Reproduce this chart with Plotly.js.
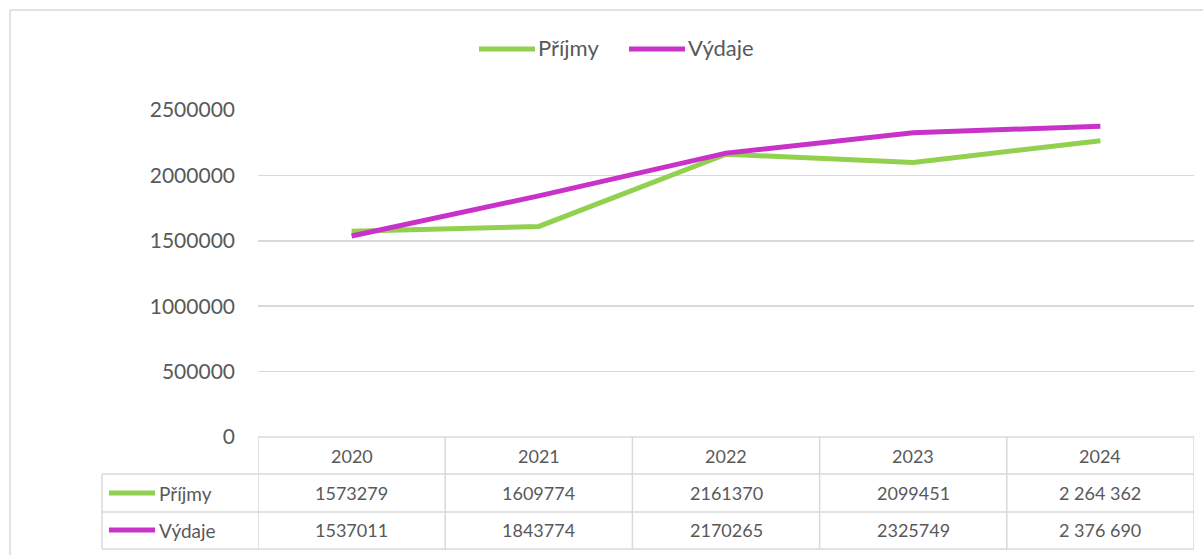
<!DOCTYPE html>
<html><head><meta charset="utf-8">
<script src="https://cdn.plot.ly/plotly-3.0.1.min.js"></script>
<style>html,body{margin:0;padding:0;background:#fff}#c{width:1203px;height:555px}</style>
</head><body><div id="c"></div>
<script>
const years = ['2020','2021','2022','2023','2024'];
const prijmy = [1573279, 1609774, 2161370, 2099451, 2264362];
const vydaje = [1537011, 1843774, 2170265, 2325749, 2376690];
const prijmyLabels = ['1573279','1609774','2161370','2099451','2 264 362'];
const vydajeLabels = ['1537011','1843774','2170265','2325749','2 376 690'];
const seriesNames = ['Příjmy','Výdaje'];
const colors = ['#92d050','#c832c8'];

const W=1203,H=555, L=258, R=1194, T=110, B=437;
const px = v => (v-L)/(R-L);
const py = v => (B-v)/(B-T);
const FONT = 'Lato, "Open Sans", sans-serif';
const TXT = '#595959', GRID = '#d9d9d9';

const traces = [
  {x: years, y: prijmy, name: seriesNames[0], type:'scatter', mode:'lines', line:{color:colors[0], width:5}},
  {x: years, y: vydaje, name: seriesNames[1], type:'scatter', mode:'lines', line:{color:colors[1], width:5}}
];

const shapes = [];
const ann = [];
const line = (x0,y0,x1,y1,color,w,xref) => shapes.push({type:'line', xref:xref||'paper', yref:'paper', x0, y0, x1, y1, line:{color, width:w}, layer:'below'});
// outer border
line(px(10), py(10), px(10), py(560), GRID, 1.5);
line(px(10), py(10), px(1210), py(10), GRID, 1.5);
// table horizontal lines
line(px(L), py(437), px(R), py(437), GRID, 1.5);
[474, 512, 549].forEach(y => line(px(102), py(y), px(R), py(y), GRID, 1.5));
// table vertical lines
line(px(102), py(474), px(102), py(549), GRID, 1.5);
for (let i=0;i<=years.length;i++) {
  shapes.push({type:'line', xref:'x', yref:'paper', x0:i-0.5, x1:i-0.5, y0:py(437), y1:py(549), line:{color:GRID, width:1.5}});
}
// table text
const TF = {family:FONT, size:18, color:TXT};
years.forEach((yr,i) => {
  ann.push({xref:'x', yref:'paper', x:i, y:py(456), text:yr, showarrow:false, font:TF, xanchor:'center', yanchor:'middle'});
  ann.push({xref:'x', yref:'paper', x:i, y:py(493), text:prijmyLabels[i], showarrow:false, font:TF, xanchor:'center', yanchor:'middle'});
  ann.push({xref:'x', yref:'paper', x:i, y:py(530), text:vydajeLabels[i], showarrow:false, font:TF, xanchor:'center', yanchor:'middle'});
});
// row legend keys
[[493,0],[530,1]].forEach(([y,k]) => {
  shapes.push({type:'line', xref:'paper', yref:'paper', x0:px(109), x1:px(155), y0:py(y), y1:py(y), line:{color:colors[k], width:5}});
  ann.push({xref:'paper', yref:'paper', x:px(157), y:py(y), text:seriesNames[k], showarrow:false, font:{family:FONT, size:19, color:TXT}, xanchor:'left', yanchor:'middle'});
});
// top legend
[[479,535,0],[629,685,1]].forEach(([x0,x1,k]) => {
  shapes.push({type:'line', xref:'paper', yref:'paper', x0:px(x0), x1:px(x1), y0:py(49), y1:py(49), line:{color:colors[k], width:5}});
  ann.push({xref:'paper', yref:'paper', x:px(x1+1), y:py(48), text:seriesNames[k], showarrow:false, font:{family:FONT, size:22, color:TXT}, xanchor:'left', yanchor:'middle'});
});

const layout = {
  width:W, height:H,
  margin:{l:L, r:W-R, t:T, b:H-B, pad:0},
  paper_bgcolor:'#fff', plot_bgcolor:'#fff',
  showlegend:false,
  font:{family:FONT, size:20, color:TXT},
  xaxis:{type:'category', range:[-0.5,4.5], showticklabels:false, showgrid:false, zeroline:false, showline:false, ticks:'', fixedrange:true},
  yaxis:{range:[0,2500000], dtick:500000, tickformat:'d', showgrid:true, gridcolor:GRID, gridwidth:1.5, zeroline:false, showline:false, ticks:'', ticklabelstandoff:22, tickfont:{family:FONT, size:21, color:TXT}},
  shapes, annotations:ann
};
Plotly.newPlot('c', traces, layout, {displayModeBar:false, staticPlot:true});
</script></body></html>
